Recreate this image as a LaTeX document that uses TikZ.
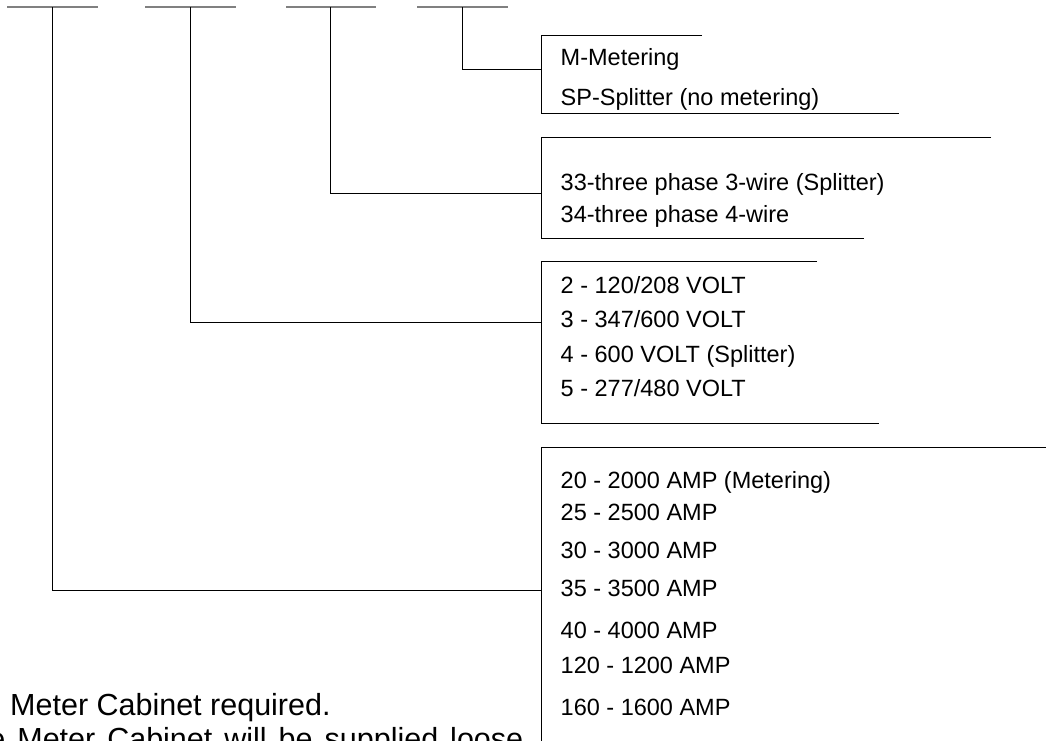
\documentclass[tikz,border=0pt]{standalone}
\usepackage{fontspec}
\setmainfont{Liberation Sans}
\tikzset{
  bar/.style={draw=black!50, line width=2pt},
  wire/.style={draw=black, line width=1pt},
  item/.style={anchor=base west, inner sep=0pt, font=\fontsize{23.5}{27}\selectfont},
  note/.style={anchor=base west, inner sep=0pt, font=\fontsize{30.5}{34}\selectfont},
}
\begin{document}
\begin{tikzpicture}[x=1pt,y=-1pt]
\useasboundingbox (0,0) rectangle (1046,741);
\clip (0,0) rectangle (1046,741);
\fill[white] (0,0) rectangle (1046,741);

% top code segments
\coordinate (s1l) at (7,7.5);   \coordinate (s1r) at (97.5,7.5);  \coordinate (s1) at (52,7.5);
\coordinate (s2l) at (145,7.5); \coordinate (s2r) at (235.5,7.5); \coordinate (s2) at (190,7.5);
\coordinate (s3l) at (286,7.5); \coordinate (s3r) at (376,7.5);   \coordinate (s3) at (330,7.5);
\coordinate (s4l) at (417,7.5); \coordinate (s4r) at (507.7,7.5); \coordinate (s4) at (462.3,7.5);
\draw[bar] (s1l) -- (s1r);
\draw[bar] (s2l) -- (s2r);
\draw[bar] (s3l) -- (s3r);
\draw[bar] (s4l) -- (s4r);

% bracket 1
\coordinate (b1t) at (541,36);  \coordinate (b1tr) at (702,36);
\coordinate (b1b) at (541,114); \coordinate (b1br) at (899,114);
\coordinate (b1c) at (541,69.5);
\draw[wire] (b1tr) -- (b1t) -- (b1b) -- (b1br);
% bracket 2
\coordinate (b2t) at (541,137.5); \coordinate (b2tr) at (991,137.5);
\coordinate (b2b) at (541,238);   \coordinate (b2br) at (864,238);
\coordinate (b2c) at (541,193);
\draw[wire] (b2tr) -- (b2t) -- (b2b) -- (b2br);
% bracket 3
\coordinate (b3t) at (541,261); \coordinate (b3tr) at (817,261);
\coordinate (b3b) at (541,423); \coordinate (b3br) at (879,423);
\coordinate (b3c) at (541,322);
\draw[wire] (b3tr) -- (b3t) -- (b3b) -- (b3br);
% bracket 4
\coordinate (b4t) at (541,447); \coordinate (b4tr) at (1046,447);
\coordinate (b4b) at (541,741);
\coordinate (b4c) at (541,590);
\draw[wire] (b4tr) -- (b4t) -- (b4b);

% connectors
\draw[wire] (s4) |- (b1c);
\draw[wire] (s3) |- (b2c);
\draw[wire] (s2) |- (b3c);
\draw[wire] (s1) |- (b4c);

% bracket texts
\node[item] (m)   at (560.5,65.5)  {M-Metering};
\node[item] (sp)  at (560.5,105.5) {SP-Splitter (no metering)};
\node[item] (p33) at (560.5,190)   {33-three phase 3-wire (Splitter)};
\node[item] (p34) at (560.5,222.5) {34-three phase 4-wire};
\node[item] (v2)  at (560.5,293.4) {2 - 120/208 VOLT};
\node[item] (v3)  at (560.5,327.9) {3 - 347/600 VOLT};
\node[item] (v4)  at (560.5,362.4) {4 - 600 VOLT (Splitter)};
\node[item] (v5)  at (560.5,396.9) {5 - 277/480 VOLT};
\node[item] (a20) at (560.5,488.3) {20 - 2000 AMP (Metering)};
\node[item] (a25) at (560.5,520.3) {25 - 2500 AMP};
\node[item] (a30) at (560.5,558.3) {30 - 3000 AMP};
\node[item] (a35) at (560.5,596.3) {35 - 3500 AMP};
\node[item] (a40) at (560.5,638.3) {40 - 4000 AMP};
\node[item] (a120) at (560.5,673.8) {120 - 1200 AMP};
\node[item] (a160) at (560.5,715.3) {160 - 1600 AMP};

% notes
\node[note] (n1) at (10,715.5) {Meter Cabinet required.};
\node[note] (n2) at (-11.8,749) {\spaceskip=12pt\relax e Meter Cabinet will be supplied loose};
\end{tikzpicture}
\end{document}
